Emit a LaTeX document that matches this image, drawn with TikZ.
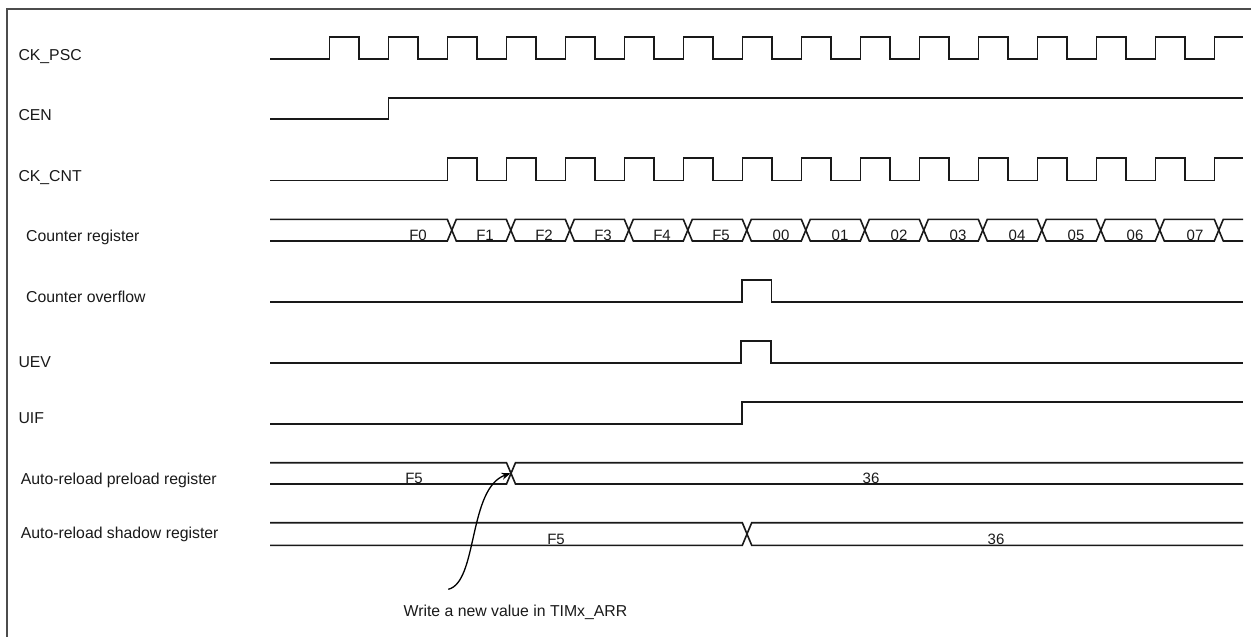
\documentclass[tikz,border=0pt]{standalone}
\usepackage{fontspec}
\setmainfont{Liberation Sans}
\usetikzlibrary{arrows.meta}
\begin{document}
\begin{tikzpicture}[x=1pt,y=-1pt,
  wave/.style={line width=1.6pt, draw=black!90, line join=miter},
  lbl/.style={anchor=base west, inner sep=0pt, font=\fontsize{15.8}{18}\selectfont, text=black!90},
  val/.style={anchor=base, inner sep=0pt, font=\fontsize{15}{18}\selectfont, text=black!90},
  frameline/.style={line width=1.3pt, draw=black!70},
  pointer/.style={line width=1.3pt, draw=black, -{Stealth[length=9pt,width=7pt]}}]
\useasboundingbox (0,0) rectangle (1251,637);
% frame
\draw[frameline] (7,637) -- (7,9) -- (1251,9);
% signal labels
\node[lbl] (lpsc) at (18.3,60) {CK\_PSC};
\node[lbl] (lcen) at (18.3,120) {CEN};
\node[lbl] (lcnt) at (18.3,181) {CK\_CNT};
\node[lbl] (lcreg) at (26,241.5) {Counter register};
\node[lbl] (lovf) at (26,302.5) {Counter overflow};
\node[lbl] (luev) at (18.3,367.3) {UEV};
\node[lbl] (luif) at (18.3,423.3) {UIF};
\node[lbl] (lpre) at (20.7,484.3) {Auto-reload preload register};
\node[lbl] (lsha) at (20.7,538.3) {Auto-reload shadow register};
% CK_PSC
\draw[wave] (270,58.7) foreach \k in {0,...,14} { -- ({329.3+59*\k},58.7) -- ++(0,-22) -- ++(29.5,0) -- ++(0,22) } -- (1214.3,58.7) -- (1214.3,36.7) -- (1243,36.7);
% CEN
\draw[wave] (270,119) -- (388.3,119) -- (388.3,97.7) -- (1243,97.7);
% CK_CNT
\draw[wave] (270,180.3) foreach \k in {2,...,14} { -- ({329.3+59*\k},180.3) -- ++(0,-22.3) -- ++(29.5,0) -- ++(0,22.3) } -- (1214.3,180.3) -- (1214.3,158) -- (1243,158);
% Counter register bus
\draw[wave] (270,219.3) -- (447.3,219.3) -- (451.8,230.15) -- (447.3,241) -- (270,241);
\foreach \j in {0,...,12} {
  \draw[wave] ({451.8+59*\j},230.15) -- ++(4.5,-10.85) -- ({447.3+59*(\j+1)},219.3) -- ++(4.5,10.85) -- ++(-4.5,10.85) -- ({456.3+59*\j},241) -- cycle;
}
\draw[wave] (1243,219.3) -- (1223.3,219.3) -- (1218.8,230.15) -- (1223.3,241) -- (1243,241);
\node[val] (vf0) at (418,240.5) {F0};
\node[val] (vf1) at (485,240.5) {F1};
\node[val] (vf2) at (544,240.5) {F2};
\node[val] (vf3) at (603,240.5) {F3};
\node[val] (vf4) at (662,240.5) {F4};
\node[val] (vf5) at (721,240.5) {F5};
\node[val] (v00) at (781,240.5) {00};
\node[val] (v01) at (840,240.5) {01};
\node[val] (v02) at (899,240.5) {02};
\node[val] (v03) at (958,240.5) {03};
\node[val] (v04) at (1017,240.5) {04};
\node[val] (v05) at (1076,240.5) {05};
\node[val] (v06) at (1135,240.5) {06};
\node[val] (v07) at (1195,240.5) {07};
% Counter overflow
\draw[wave] (270,302) -- (741.7,302) -- (741.7,280) -- (771.5,280) -- (771.5,302) -- (1243,302);
% UEV
\draw[wave] (270,362.7) -- (741,362.7) -- (741,340.7) -- (770.7,340.7) -- (770.7,362.7) -- (1243,362.7);
% UIF
\draw[wave] (270,423.7) -- (741.7,423.7) -- (741.7,401.7) -- (1243,401.7);
% Auto-reload preload register
\draw[wave] (270,462.7) -- (506.5,462.7) -- (511,473.35) -- (506.5,484) -- (270,484);
\draw[wave] (1243,462.7) -- (515.5,462.7) -- (511,473.35) -- (515.5,484) -- (1243,484);
\node[val] (pf5) at (414,483.5) {F5};
\node[val] (p36) at (871,483.5) {36};
% Auto-reload shadow register
\draw[wave] (270,522.7) -- (742.3,522.7) -- (747,534) -- (742.3,545.3) -- (270,545.3);
\draw[wave] (1243,522.7) -- (751.7,522.7) -- (747,534) -- (751.7,545.3) -- (1243,545.3);
\node[val] (sf5) at (556,544.8) {F5};
\node[val] (s36) at (996,544.8) {36};
% annotation
\coordinate (wstart) at (448.3,589.3);
\coordinate (wtip) at (510.5,473.3);
\draw[pointer] (wstart) .. controls (478,582) and (468,488) .. (wtip);
\node[val, font=\fontsize{15.8}{18}\selectfont] (note) at (515.5,616.5) {Write a new value in TIMx\_ARR};
\end{tikzpicture}
\end{document}
